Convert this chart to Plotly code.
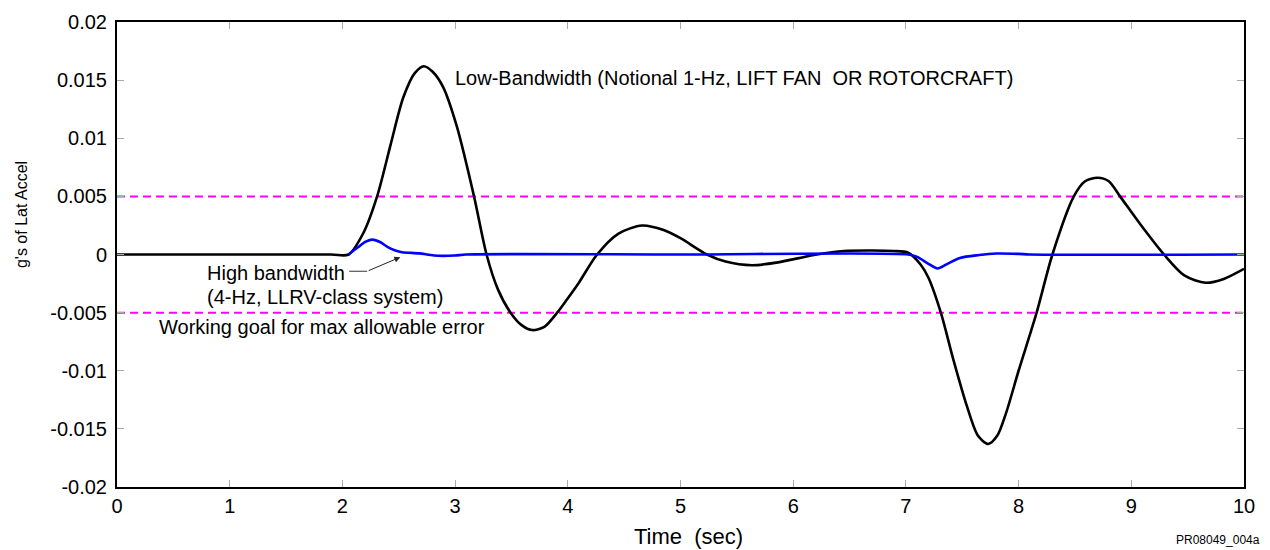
import plotly.graph_objects as go

# Low-bandwidth (black) response
low_t = [0, 1.0, 1.9, 2.055, 2.186, 2.308, 2.429, 2.540, 2.642, 2.722, 2.803, 2.894, 3.016, 3.168,
         3.279, 3.380, 3.492, 3.593, 3.683, 3.795, 3.906, 3.99, 4.1, 4.26, 4.45, 4.66, 4.85, 5.0,
         5.235, 5.4, 5.634, 5.85, 6.21, 6.45, 6.7, 6.89, 7.02, 7.13, 7.2, 7.31, 7.42, 7.54, 7.64,
         7.73, 7.81, 7.89, 8.0, 8.16, 8.30, 8.49, 8.59, 8.70, 8.80, 8.90, 9.08, 9.29, 9.47, 9.66,
         9.82, 10.0]
low_g = [0, 0, 0, 0, 0.00185, 0.0050, 0.0095, 0.0135, 0.0156, 0.0162, 0.0157, 0.0144, 0.0110, 0.0050,
         0.0, -0.0030, -0.0050, -0.0061, -0.0065, -0.0062, -0.0050, -0.0039, -0.0024, 0.0, 0.0018,
         0.00249, 0.0021, 0.0014, 0.0, -0.0006, -0.00092, -0.0007, 0.0, 0.0003, 0.00034, 0.0003,
         0.00015, -0.00086, -0.0020, -0.0050, -0.0090, -0.0130, -0.0156, -0.0163, -0.0156, -0.0136,
         -0.0100, -0.0050, 0.0, 0.0050, 0.0063, 0.0066, 0.0063, 0.0050, 0.0026, 0.0, -0.0018,
         -0.00243, -0.0021, -0.00123]

# High-bandwidth (blue) response
high_t = [2.055, 2.136, 2.207, 2.267, 2.338, 2.399, 2.470, 2.530, 2.682, 2.813, 2.996, 3.097, 5.0,
          7.02, 7.10, 7.20, 7.28, 7.36, 7.48, 7.65, 7.8, 8.0, 8.1, 10.0]
high_g = [0, 0.0006, 0.0011, 0.00128, 0.00105, 0.00066, 0.00035, 0.0002, 0.0001, -0.00009, -0.00009,
          0, 0, 0, -0.0002, -0.0008, -0.0012, -0.00085, -0.0003, -0.00005, 0.00008, 0.00005, 0, 0]

goal = 0.005
x_ticks = list(range(0, 11))
y_tickvals = [0.02, 0.015, 0.01, 0.005, 0, -0.005, -0.01, -0.015, -0.02]
y_ticktext = ["0.02", "0.015", "0.01", "0.005", "0", "-0.005", "-0.01", "-0.015", "-0.02"]

FONT = "Liberation Sans, Arial, sans-serif"

fig = go.Figure()
for g in (goal, -goal):
    fig.add_trace(go.Scatter(x=[0, 10], y=[g, g], mode="lines",
                             line=dict(color="#FF00FF", width=2, dash="8px,5px"),
                             showlegend=False, hoverinfo="skip"))
fig.add_trace(go.Scatter(x=low_t, y=low_g, mode="lines",
                         line=dict(color="black", width=2.6, shape="spline", smoothing=0.8),
                         showlegend=False))
fig.add_trace(go.Scatter(x=high_t, y=high_g, mode="lines",
                         line=dict(color="#0000FF", width=2.6, shape="spline", smoothing=0.8),
                         showlegend=False))

ann_font = dict(family=FONT, size=20, color="black")
fig.add_annotation(x=2.984, y=0.01516, text="Low-Bandwidth (Notional 1-Hz, LIFT FAN  OR ROTORCRAFT)",
                   showarrow=False, xanchor="left", yanchor="middle", font=ann_font)
fig.add_annotation(x=0.785, y=-0.0016, text="High bandwidth",
                   showarrow=False, xanchor="left", yanchor="middle", font=ann_font)
fig.add_annotation(x=0.785, y=-0.00367, text="(4-Hz, LLRV-class system)",
                   showarrow=False, xanchor="left", yanchor="middle", font=ann_font)
fig.add_annotation(x=0.358, y=-0.00625, text="Working goal for max allowable error",
                   showarrow=False, xanchor="left", yanchor="middle", font=ann_font)
fig.add_shape(type="line", x0=2.06, x1=2.22, y0=-0.00144, y1=-0.00144,
              line=dict(color="#333333", width=1))
fig.add_annotation(x=2.514, y=-0.00023, ax=2.22, ay=-0.00144, axref="x", ayref="y",
                   text="", showarrow=True, arrowhead=2, arrowsize=1.2, arrowwidth=1,
                   arrowcolor="#222222")
fig.add_annotation(xref="paper", yref="paper", x=1.016, y=-0.133, text="PR08049_004a",
                   showarrow=False, xanchor="right", yanchor="bottom",
                   font=dict(family=FONT, size=12, color="black"))
# axis titles placed as in the original
fig.add_annotation(xref="paper", yref="paper", x=-0.0852, y=0.587, text="g's of Lat Accel",
                   textangle=-90, showarrow=False, xanchor="center", yanchor="middle",
                   font=dict(family=FONT, size=16, color="black"))
fig.add_annotation(xref="paper", yref="paper", x=0.5075, y=-0.1075, text="Time  (sec)",
                   showarrow=False, xanchor="center", yanchor="middle",
                   font=dict(family=FONT, size=22, color="black"))

axis_common = dict(showgrid=False, zeroline=False, showline=True, linecolor="black", linewidth=2,
                   mirror="ticks", ticks="inside", ticklen=7, tickcolor="#aaaaaa", tickwidth=1,
                   tickfont=dict(family=FONT, size=20, color="black"), automargin=False)
fig.update_xaxes(range=[0, 10], tickvals=x_ticks, **axis_common)
fig.update_yaxes(range=[-0.02, 0.02], tickvals=y_tickvals, ticktext=y_ticktext,
                 ticklabelstandoff=4, **axis_common)
fig.update_layout(width=1270, height=550, paper_bgcolor="white", plot_bgcolor="white",
                  margin=dict(l=117, r=26, t=22, b=63), font=dict(family=FONT))
fig.write_html("out.html", config={"displayModeBar": False},
               post_script="document.body.style.margin='0';")
